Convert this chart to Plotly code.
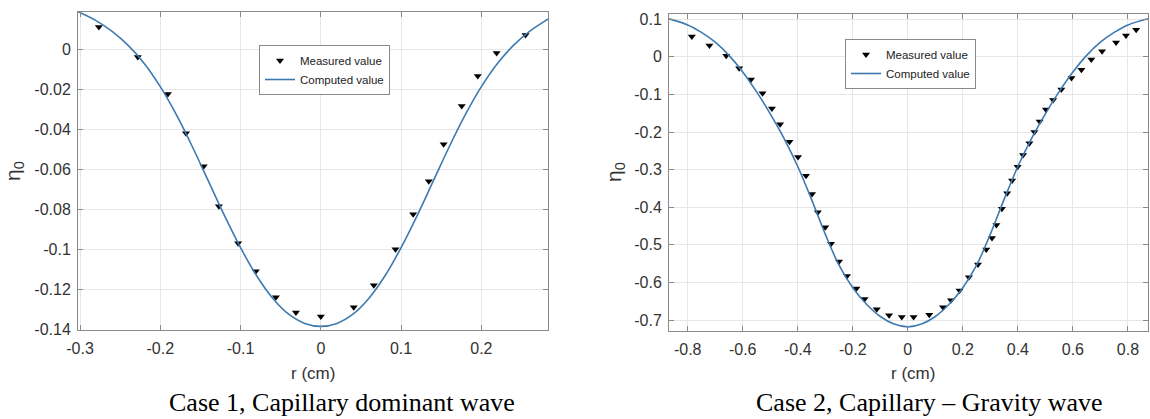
import plotly.graph_objects as go

# ---------------- Case 1 data ----------------
case1_meas_r = [-0.2765, -0.228, -0.1905, -0.168, -0.146, -0.127, -0.103, -0.081, -0.056, -0.031,
                0.0, 0.041, 0.066, 0.093, 0.115, 0.1345, 0.153, 0.1755, 0.1955, 0.219, 0.255]
case1_meas_eta = [0.011, -0.004, -0.0225, -0.042, -0.0585, -0.0785, -0.097, -0.111, -0.124, -0.1315,
                  -0.1335, -0.129, -0.118, -0.100, -0.0825, -0.066, -0.0475, -0.0285, -0.0135, -0.002, 0.007]
case1_comp_r = [-0.3025, -0.28, -0.26, -0.24, -0.22, -0.20, -0.18, -0.16, -0.14, -0.12, -0.10, -0.08,
                -0.06, -0.04, -0.02, 0.0, 0.02, 0.04, 0.06, 0.08, 0.10, 0.12, 0.14, 0.16, 0.18, 0.20,
                0.22, 0.24, 0.26, 0.28, 0.283]
case1_comp_eta = [0.0187, 0.0142, 0.0088, 0.0018, -0.0072, -0.0188, -0.0328, -0.0488, -0.066, -0.0832,
                  -0.0992, -0.1132, -0.1244, -0.1324, -0.137, -0.1385, -0.137, -0.1324, -0.1244, -0.1132,
                  -0.0992, -0.0832, -0.066, -0.0488, -0.0328, -0.0188, -0.0072, 0.0018, 0.0088, 0.0142,
                  0.0150]

# ---------------- Case 2 data ----------------
case2_meas_r = [-0.785, -0.721, -0.660, -0.613, -0.570, -0.528, -0.494, -0.464, -0.430, -0.399,
                -0.370, -0.348, -0.327, -0.300, -0.279, -0.250, -0.221, -0.187, -0.157, -0.113,
                -0.068, -0.022, 0.021, 0.078, 0.128, 0.157, 0.188, 0.222, 0.255, 0.285,
                0.306, 0.322, 0.342, 0.361, 0.379, 0.399, 0.419, 0.442, 0.460, 0.479,
                0.502, 0.528, 0.558, 0.595, 0.631, 0.667, 0.706, 0.757, 0.793, 0.830]
case2_meas_eta = [0.054, 0.030, 0.003, -0.030, -0.060, -0.097, -0.137, -0.179, -0.226, -0.266,
                  -0.316, -0.365, -0.413, -0.453, -0.497, -0.544, -0.583, -0.616, -0.644, -0.671,
                  -0.687, -0.692, -0.692, -0.686, -0.666, -0.647, -0.621, -0.586, -0.552, -0.512,
                  -0.482, -0.447, -0.404, -0.363, -0.329, -0.292, -0.261, -0.230, -0.200, -0.172,
                  -0.140, -0.115, -0.087, -0.056, -0.034, -0.007, 0.015, 0.038, 0.057, 0.072]
case2_comp_r = [-0.868, -0.80, -0.75, -0.70, -0.65, -0.60, -0.55, -0.50, -0.45, -0.40, -0.35,
                -0.30, -0.25, -0.20, -0.15, -0.10, -0.05, 0.0, 0.05, 0.10, 0.15, 0.20, 0.25, 0.30,
                0.35, 0.40, 0.45, 0.50, 0.55, 0.60, 0.65, 0.70, 0.75, 0.80, 0.873]
case2_comp_eta = [0.101, 0.085, 0.065, 0.039, 0.004, -0.040, -0.0925, -0.1515, -0.2165, -0.2915,
                  -0.379, -0.4715, -0.554, -0.614, -0.658, -0.6905, -0.7105, -0.718, -0.7105, -0.6905,
                  -0.658, -0.614, -0.554, -0.4715, -0.379, -0.2915, -0.2165, -0.1515, -0.0925, -0.040,
                  0.004, 0.039, 0.065, 0.085, 0.1015]

# ---------------- Tick labels ----------------
case1_xticks = [-0.3, -0.2, -0.1, 0.0, 0.1, 0.2]
case1_xlabels = ["-0.3", "-0.2", "-0.1", "0", "0.1", "0.2"]
case1_yticks = [0.0, -0.02, -0.04, -0.06, -0.08, -0.10, -0.12, -0.14]
case1_ylabels = ["0", "-0.02", "-0.04", "-0.06", "-0.08", "-0.1", "-0.12", "-0.14"]
case2_xticks = [-0.8, -0.6, -0.4, -0.2, 0.0, 0.2, 0.4, 0.6, 0.8]
case2_xlabels = ["-0.8", "-0.6", "-0.4", "-0.2", "0", "0.2", "0.4", "0.6", "0.8"]
case2_yticks = [0.1, 0.0, -0.1, -0.2, -0.3, -0.4, -0.5, -0.6, -0.7]
case2_ylabels = ["0.1", "0", "-0.1", "-0.2", "-0.3", "-0.4", "-0.5", "-0.6", "-0.7"]

W, H = 1150, 419
LINE_COLOR = "#3d7ab0"
TICK_COLOR = "#333333"
AXIS_COLOR = "#8a8a8a"
GRID_COLOR = "#e6e6e6"
SANS = "Liberation Sans, Arial, Helvetica, sans-serif"
SERIF = "Liberation Serif, Times New Roman, serif"

fig = go.Figure()

fig.add_trace(go.Scatter(x=case1_meas_r, y=case1_meas_eta, mode="markers", name="Measured value",
                         marker=dict(symbol="triangle-down", size=7, color="black"),
                         xaxis="x", yaxis="y", legend="legend"))
fig.add_trace(go.Scatter(x=case1_comp_r, y=case1_comp_eta, mode="lines", name="Computed value",
                         line=dict(color=LINE_COLOR, width=1.6, shape="spline", smoothing=1.0),
                         xaxis="x", yaxis="y", legend="legend"))
fig.add_trace(go.Scatter(x=case2_meas_r, y=case2_meas_eta, mode="markers", name="Measured value",
                         marker=dict(symbol="triangle-down", size=7, color="black"),
                         xaxis="x2", yaxis="y2", legend="legend2"))
fig.add_trace(go.Scatter(x=case2_comp_r, y=case2_comp_eta, mode="lines", name="Computed value",
                         line=dict(color=LINE_COLOR, width=1.6, shape="spline", smoothing=1.0),
                         xaxis="x2", yaxis="y2", legend="legend2"))


def px_x(p):
    return p / W


def px_y(p):
    return 1 - p / H


axis_common = dict(showline=True, linecolor=AXIS_COLOR, linewidth=1, mirror="ticks",
                   ticks="inside", ticklen=5, tickcolor=AXIS_COLOR, tickwidth=1,
                   showgrid=True, gridcolor=GRID_COLOR, gridwidth=1, zeroline=False,
                   automargin=False,
                   tickfont=dict(family=SANS, size=16, color=TICK_COLOR))

legend_common = dict(bgcolor="white", bordercolor="#8a8a8a", borderwidth=1,
                     font=dict(family=SANS, size=11.5, color="#222222"),
                     xanchor="left", yanchor="top", tracegroupgap=0,
                     itemwidth=30)

fig.update_layout(
    width=W, height=H,
    margin=dict(l=0, r=0, t=0, b=0, autoexpand=False),
    paper_bgcolor="white", plot_bgcolor="white",
    showlegend=True,
    hovermode=False,
    xaxis=dict(domain=[px_x(78), px_x(548)], range=[-0.3025, 0.283], anchor="y",
               tickvals=case1_xticks, ticktext=case1_xlabels, ticklabelstandoff=4, **axis_common),
    yaxis=dict(domain=[px_y(330), px_y(12)], range=[-0.1403, 0.0185], anchor="x",
               tickvals=case1_yticks, ticktext=case1_ylabels, ticklabelstandoff=3, **axis_common),
    xaxis2=dict(domain=[px_x(669), px_x(1148)], range=[-0.868, 0.873], anchor="y2",
                tickvals=case2_xticks, ticktext=case2_xlabels, ticklabelstandoff=4, **axis_common),
    yaxis2=dict(domain=[px_y(331), px_y(14)], range=[-0.729, 0.114], anchor="x2",
                tickvals=case2_yticks, ticktext=case2_ylabels, ticklabelstandoff=3, **axis_common),
    legend=dict(x=px_x(259), y=px_y(45), **legend_common),
    legend2=dict(x=px_x(845), y=px_y(39), **legend_common),
)

annotations = [
    dict(text="η<sub>0</sub>", x=px_x(14), y=px_y(171), textangle=-90),
    dict(text="η<sub>0</sub>", x=px_x(615), y=px_y(172), textangle=-90),
]
for a in annotations:
    fig.add_annotation(xref="paper", yref="paper", showarrow=False, xanchor="center", yanchor="middle",
                       font=dict(family=SANS, size=21, color=TICK_COLOR), **a)

for txt, cx in [("r (cm)", 313), ("r (cm)", 913)]:
    fig.add_annotation(text=txt, xref="paper", yref="paper", x=px_x(cx), y=px_y(373),
                       showarrow=False, xanchor="center", yanchor="middle",
                       font=dict(family=SANS, size=17, color=TICK_COLOR))

for txt, cx in [("Case 1, Capillary dominant wave", 342), ("Case 2, Capillary – Gravity wave", 929)]:
    fig.add_annotation(text=txt, xref="paper", yref="paper", x=px_x(cx), y=px_y(402),
                       showarrow=False, xanchor="center", yanchor="middle",
                       font=dict(family=SERIF, size=26, color="black"))

fig.write_html("out.html",
               config={"displayModeBar": False, "staticPlot": True},
               post_script="document.body.style.margin='0px';document.body.style.overflow='hidden';")
